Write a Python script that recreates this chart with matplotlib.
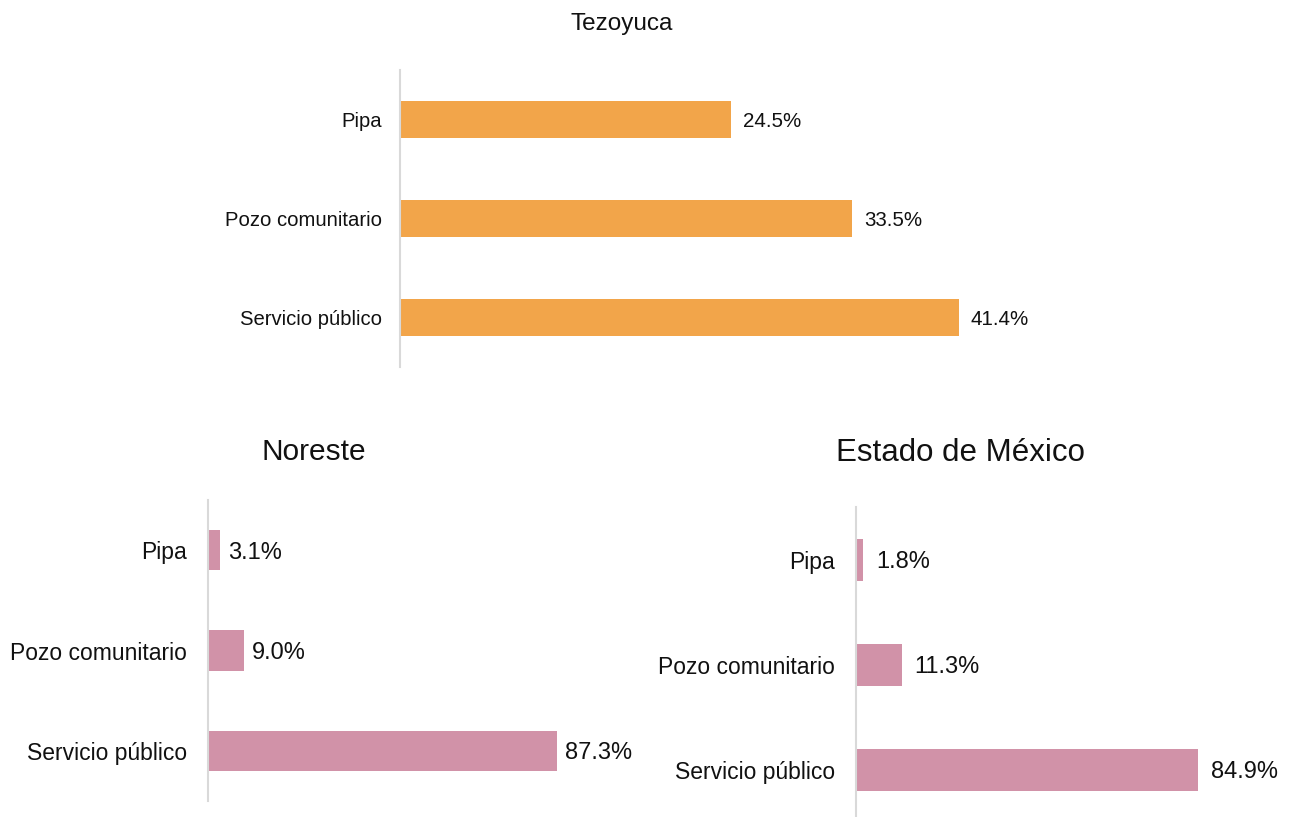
import matplotlib
matplotlib.use("Agg")
import matplotlib.pyplot as plt

plt.rcParams['font.family'] = ['Liberation Sans', 'DejaVu Sans']

categories = ["Pipa", "Pozo comunitario", "Servicio público"]
tezoyuca = [24.5, 33.5, 41.4]
noreste = [3.1, 9.0, 87.3]
edomex = [1.8, 11.3, 84.9]

ORANGE = "#F2A54A"
PINK = "#D192A8"
AXIS_GRAY = "#D9D9D9"
TEXT = "#111111"

W, H = 1296, 817
fig = plt.figure(figsize=(W / 100, H / 100), dpi=100)


def px_axes(left, top, width, height):
    return fig.add_axes([left / W, 1 - (top + height) / H, width / W, height / H])


def bar_panel(ax, values, color, xmax, bar_h, tick_fs, val_fs, tick_pad, val_off):
    y = list(range(len(categories)))
    ax.barh(y, values, height=bar_h, color=color, edgecolor="none")
    ax.set_ylim(len(categories) - 0.5, -0.5)
    ax.set_xlim(0, xmax)
    ax.set_yticks(y)
    ax.set_yticklabels(categories, fontsize=tick_fs, color=TEXT)
    ax.tick_params(axis="y", length=0, pad=tick_pad)
    ax.set_xticks([])
    for s in ("top", "right", "bottom"):
        ax.spines[s].set_visible(False)
    ax.spines["left"].set_color(AXIS_GRAY)
    ax.spines["left"].set_linewidth(1.5)
    for yi, v in zip(y, values):
        ax.annotate(f"{v:.1f}%", xy=(v, yi), xytext=(val_off, 0),
                    textcoords="offset pixels", va="center_baseline", ha="left",
                    fontsize=val_fs, color=TEXT)


# Tezoyuca (top)
ax1 = px_axes(400, 70, 600, 297)
bar_panel(ax1, tezoyuca, ORANGE, 600 / 13.5, 0.38, 14.6, 14.8, 13, 12)
fig.text(622 / W, 1 - 24 / H, "Tezoyuca", ha="center", va="center",
         fontsize=17.5, color=TEXT)

# Noreste (bottom left)
ax2 = px_axes(208, 500, 400, 301)
bar_panel(ax2, noreste, PINK, 100, 0.4, 16.5, 17, 15, 8)
fig.text(314 / W, 1 - 452 / H, "Noreste", ha="center", va="center",
         fontsize=21.5, color=TEXT)

# Estado de México (bottom right)
ax3 = px_axes(856, 507, 400, 315)
bar_panel(ax3, edomex, PINK, 99.3, 0.4, 16.5, 17, 15, 13)
fig.text(960 / W, 1 - 453 / H, "Estado de México", ha="center", va="center",
         fontsize=22.5, color=TEXT)

fig.savefig("out.png", dpi=100)
